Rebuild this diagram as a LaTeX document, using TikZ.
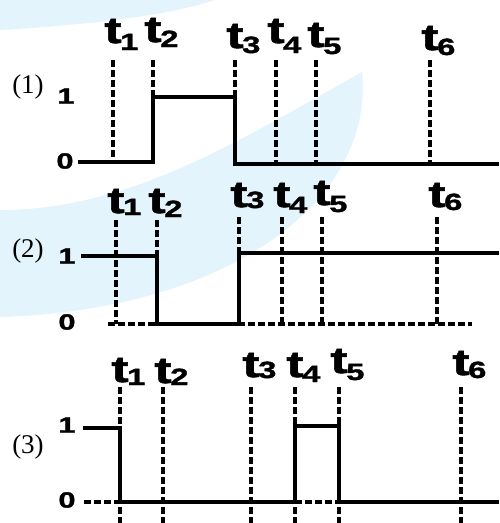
\documentclass[tikz,border=0pt]{standalone}
\usepackage{fontspec}
\setmainfont{Liberation Serif}
\newfontfamily\tfont{Liberation Sans}[FakeStretch=1.4, FakeBold=1.5]
\usepackage{xcolor}
\definecolor{wmblue}{RGB}{228,244,252}

\newcommand{\tsub}[2]{t\rlap{\kern-1.5pt\raisebox{-#2pt}{\fontsize{23.5}{23}\selectfont #1}}}

\begin{document}
\begin{tikzpicture}[x=1pt, y=-1pt,
        every node/.style ={inner sep=0pt},
        tlabel/.style ={font=\tfont\bfseries\fontsize{37}{37}\selectfont, anchor=base},
        level/.style  ={font=\tfont\bfseries\fontsize{22}{22}\selectfont},
        panel/.style  ={font=\fontsize{27}{27}\selectfont},
        signal/.style ={draw, line width=3.4pt, line join=miter},
        guide/.style  ={draw, line width=3.2pt, dash pattern=on 7pt off 3pt},
    ]
\useasboundingbox (0,0) rectangle (499,523);

% Watermark
\fill[wmblue] (0,0) -- (215,0) .. controls (170,15) and (90,25) .. (0,30) -- cycle;
\fill[wmblue] (0,210) .. controls (130,210) and (240,140) .. (362,72)
    .. controls (375,200) and (230,310) .. (0,317) -- cycle;

% Panel (1)
\node (n1) [panel] at (28,87) {(1)};
\node (one1) [level] at (66,96) {1};
\node (zero1) [level] at (65,161) {0};
\foreach \x/\y/\k/\d in {113/43/1/7, 153/42/2/5, 235/48/3/5, 276/43/4/10, 316/47/5/7, 430/50/6/5}
    \node (a\k) [tlabel] at (\x,\y) {\tsub{\k}{\d}};
\foreach \x/\b in {113/163, 153/97, 235/97, 276/164, 316/164, 430/164}
    \draw[guide] (\x,60) -- (\x,\b);
\draw[signal] (78,162) -- (153,162) -- (153,97) -- (235,97) -- (235,164) -- (499,164);

% Panel (2)
\node (n2) [panel] at (28,251) {(2)};
\node (one2) [level] at (67,256) {1};
\node (zero2) [level] at (67,322) {0};
\foreach \x/\y/\k/\d in {116/213/1/2, 157/213/2/4, 239/207/3/1, 282/207/4/6, 322/205/5/7, 437/207/6/3}
    \node (b\k) [tlabel] at (\x,\y) {\tsub{\k}{\d}};
\foreach \x/\a/\b in {116/220/324, 157/220/256, 239/217/253, 282/217/324, 322/217/324, 437/217/324}
    \draw[guide] (\x,\a) -- (\x,\b);
\draw[guide] (108,324) -- (472,324);
\draw[signal] (81,256) -- (157,256) -- (157,324) -- (239,324) -- (239,253) -- (499,253);

% Panel (3)
\node (n3) [panel] at (28,447) {(3)};
\node (one3) [level] at (67,425) {1};
\node (zero3) [level] at (67,500) {0};
\foreach \x/\y/\k/\d in {120/382/1/3, 163/383/2/2, 251/377/3/1, 295/377/4/5, 339/373/5/7, 461/375/6/3}
    \node (c\k) [tlabel] at (\x,\y) {\tsub{\k}{\d}};
\foreach \x in {120, 163, 251, 295, 339, 461}
    \draw[guide] (\x,387) -- (\x,523);
\draw[guide] (84,502) -- (120,502);
\draw[guide] (295,502) -- (339,502);
\draw[signal] (83,428) -- (120,428) -- (120,502) -- (295,502) -- (295,426) -- (339,426) -- (339,502) -- (499,502);

\end{tikzpicture}
\end{document}
